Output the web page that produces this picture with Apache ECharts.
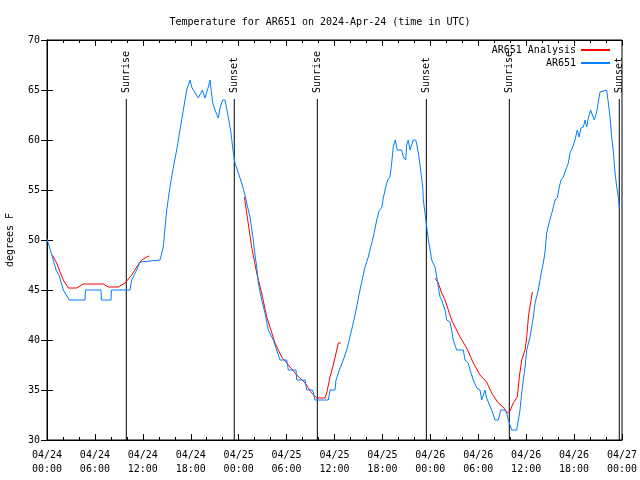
<!DOCTYPE html>
<html>
<head>
<meta charset="utf-8">
<script src="https://cdn.jsdelivr.net/npm/echarts@6/dist/echarts.min.js"></script>
<style>html,body{margin:0;padding:0;background:#fff}#c{width:640px;height:480px}</style>
</head>
<body>
<div id="c"></div>
<script>
// hours since 2024-04-24 00:00 UTC, temperature (F)
const ar651 = [
[0.00,50.1],[0.38,49.1],[0.79,48],[1.13,47],[1.50,46.5],[2.04,45],[2.79,44],[4.76,44],[4.82,45],[6.76,45],[6.82,44],
[8.01,44],[8.07,45],[10.39,45],[10.61,46],[11.23,47],[11.65,47.8],[11.86,48],[14.15,48],[14.56,49.3],[14.99,53],
[15.40,55.3],[15.82,57.3],[16.24,59],[16.65,61],[17.07,63],[17.49,65],[17.91,66],[18.12,65.3],[18.32,65],[18.95,64.2],
[19.16,64.2],[19.45,65],[19.78,64.2],[20.20,65.3],[20.41,66],[20.75,63.7],[21.04,63],[21.45,62.2],[21.66,63.2],[22.00,64],
[22.29,64],[22.70,62.3],[23.04,60.7],[23.33,58.7],[23.54,57.7],[23.95,56.7],[24.38,55.7],[24.79,54.5],[25.00,53.7],
[25.42,52.3],[25.83,50],[26.05,48.5],[26.26,47.3],[26.46,45.7],[26.88,44],[27.30,42.7],[27.71,41],[28.34,40],[28.76,39],
[29.18,38],[30.02,38],[30.22,37],[31.18,37],[31.27,36],[32.31,36],[32.52,35],[33.27,35],[33.56,34],[35.22,34],[35.44,35],
[36.06,35],[36.19,36],[36.60,37],[37.10,38],[37.53,39],[37.94,40.3],[38.57,42.5],[39.19,45],[39.82,47.3],[40.23,48.3],
[40.44,49],[40.69,49.2],[40.86,50.3],[41.29,52],[41.61,53],[41.91,53.2],[42.11,54.2],[42.41,55.3],[42.66,56],[42.95,56.3],
[43.16,57.7],[43.36,59.3],[43.61,60],[43.86,59],[44.42,59],[44.62,58.3],[44.92,58],[45.04,59.5],[45.24,60],[45.45,59],
[45.67,59],[45.87,60],[46.17,60],[46.37,59.3],[46.58,58.3],[46.83,56.7],[47.05,55.3],[47.12,54],[47.33,52.7],[47.55,51.3],
[47.75,50],[47.96,49.1],[48.17,48],[48.59,47.3],[48.80,46.3],[49.00,45.3],[49.21,44.3],[49.42,44],[49.84,43],[50.05,42],
[50.46,41.8],[50.67,41],[50.87,40],[51.30,39],[52.13,39],[52.34,38],[52.75,37.7],[52.97,37],[53.38,36],[53.81,35.2],
[54.22,35],[54.43,34],[54.63,34],[54.84,35],[55.05,34.2],[55.26,34],[55.68,33],[56.10,32],[56.51,32],[56.81,33],[57.35,33],
[57.56,32.7],[57.77,32],[58.19,31],[58.82,31],[59.02,32],[59.23,33],[59.44,34.7],[59.64,36],[59.86,37.3],[60.07,39],
[60.48,40.3],[60.90,42.3],[61.11,43.7],[61.52,45],[61.95,47],[62.15,47.7],[62.36,48.8],[62.57,50.7],[62.86,51.7],
[63.07,52.3],[63.32,53],[63.61,54],[63.90,54.2],[64.15,55.3],[64.36,56],[64.65,56.3],[64.95,57],[65.28,57.7],[65.49,58.7],
[65.83,59.3],[66.12,60],[66.40,61],[66.62,60.3],[66.87,61.2],[67.16,61.3],[67.37,62],[67.58,61.3],[67.78,62.2],[68.08,63],
[68.28,62.5],[68.53,62],[68.83,62.8],[69.03,63.8],[69.25,64.8],[69.46,65],[70.08,65],[70.29,63.7],[70.50,62.3],[70.71,60.3],
[70.93,58.7],[71.13,56.7],[71.34,55.3],[71.54,54.3],[71.67,53.2]
];
const analysis1 = [
[0.66,48.5],[1.21,47.7],[1.63,46.8],[2.04,46],[2.67,45.2],[3.72,45.2],[4.55,45.6],[7.05,45.6],[7.68,45.3],[8.93,45.3],
[9.77,45.7],[10.61,46.5],[11.23,47.3],[11.86,48],[12.48,48.3],[12.81,48.4]
];
const analysis2 = [
[24.71,54.3],[25.01,52.7],[25.63,49.3],[26.26,46.7],[26.88,44.7],[27.51,42.3],[27.92,41.3],[28.55,39.7],[29.39,38.3],
[30.22,37.5],[31.27,36.5],[32.31,35.7],[33.15,34.7],[33.77,34.2],[34.81,34.2],[35.02,34.7],[35.44,36.3],[35.85,37.5],
[36.48,39.7],[36.81,39.7]
];
const analysis3 = [
[48.59,46.2],[49.00,45.7],[49.42,44.7],[49.84,44],[50.25,43],[50.67,42],[51.09,41.3],[51.72,40.3],[52.55,39.2],[53.38,37.7],
[54.22,36.5],[55.05,35.8],[55.68,34.7],[56.51,33.7],[57.13,33.3],[57.64,32.7],[57.98,32.9],[58.39,33.7],[58.89,34.3],
[59.14,36.3],[59.44,38],[59.86,39],[60.07,40.3],[60.28,42.3],[60.61,44],[60.78,44.8]
];
const sunEvents = [[9.93,'Sunrise'],[23.45,'Sunset'],[33.85,'Sunrise'],[47.5,'Sunset'],[57.89,'Sunrise'],[71.66,'Sunset']];
const dayLabels = ['04/24','04/25','04/26','04/27'];
const yTop = 64.1;

const analysis = analysis1.concat([[null,null]], analysis2, [[null,null]], analysis3);

const FONT = 'DejaVu Sans Mono';
const pad = n => (n < 10 ? '0' : '') + n;
const xFmt = v => dayLabels[Math.floor(v / 24)] + '\n' + pad(v % 24) + ':00';

const chart = echarts.init(document.getElementById('c'), null, {renderer: 'canvas'});
const xCommon = {
  type: 'value', min: 0, max: 72, interval: 6,
  axisLine: {show: true, lineStyle: {color: '#000', width: 1}},
  axisTick: {show: true, inside: true, length: 6, lineStyle: {color: '#000'}},
  minorTick: {show: true, splitNumber: 3, length: 3, lineStyle: {color: '#000'}},
  splitLine: {show: false}
};
const yCommon = {
  type: 'value', min: 30, max: 70, interval: 5,
  axisLine: {show: true, lineStyle: {color: '#000', width: 1}},
  axisTick: {show: true, inside: true, length: 6, lineStyle: {color: '#000'}},
  splitLine: {show: false}
};
chart.setOption({
  animation: false,
  backgroundColor: '#fff',
  title: {
    text: 'Temperature for AR651 on 2024-Apr-24 (time in UTC)',
    left: 'center', top: 12,
    textStyle: {fontFamily: FONT, fontSize: 10, fontWeight: 'normal', color: '#000'}
  },
  legend: {
    orient: 'vertical', right: 30, top: 44, align: 'right', padding: 0,
    itemWidth: 29, itemHeight: 2, itemGap: 1, icon: 'rect',
    data: ['AR651 Analysis', 'AR651'],
    textStyle: {fontFamily: FONT, fontSize: 10, color: '#000', lineHeight: 12}
  },
  grid: {left: 47, right: 18, top: 40, bottom: 40, show: true, borderColor: '#000', borderWidth: 1,
    outerBoundsMode: 'none', containLabel: false},
  xAxis: [
    Object.assign({}, xCommon, {position: 'bottom',
      axisLabel: {formatter: xFmt, fontFamily: FONT, fontSize: 10, color: '#000', lineHeight: 14, margin: 8}}),
    Object.assign({}, xCommon, {position: 'top', axisLabel: {show: false}})
  ],
  yAxis: [
    Object.assign({}, yCommon, {position: 'left', name: 'degrees F', nameLocation: 'middle', nameGap: 32, nameRotate: 90,
      nameTextStyle: {fontFamily: FONT, fontSize: 10, color: '#000'},
      axisLabel: {fontFamily: FONT, fontSize: 10, color: '#000', margin: 7}}),
    Object.assign({}, yCommon, {position: 'right', axisLabel: {show: false}})
  ],
  series: [
    {
      type: 'custom', name: 'sun', silent: true, clip: false, z: 1,
      data: sunEvents.map(e => [e[0], e[1]]),
      encode: {x: 0},
      renderItem: function (params, api) {
        const t = api.value(0);
        const label = sunEvents[params.dataIndex][1];
        const p0 = api.coord([t, 30]);
        const p1 = api.coord([t, yTop]);
        return {
          type: 'group',
          children: [
            {type: 'line', shape: {x1: p0[0], y1: p0[1], x2: p1[0], y2: p1[1]}, style: {stroke: '#000', lineWidth: 1}},
            {type: 'text', x: p1[0], y: p1[1] - 6, rotation: Math.PI / 2,
              style: {text: label, fontFamily: FONT, fontSize: 10, fill: '#000', align: 'left', verticalAlign: 'middle'}}
          ]
        };
      }
    },
    {
      type: 'line', name: 'AR651 Analysis', data: analysis, showSymbol: false, symbol: 'none',
      connectNulls: false, lineStyle: {color: '#ff0000', width: 1}, itemStyle: {color: '#ff0000'}, z: 2
    },
    {
      type: 'line', name: 'AR651', data: ar651, showSymbol: false, symbol: 'none',
      lineStyle: {color: '#0080ff', width: 1}, itemStyle: {color: '#0080ff'}, z: 3
    }
  ]
});
</script>
</body>
</html>
